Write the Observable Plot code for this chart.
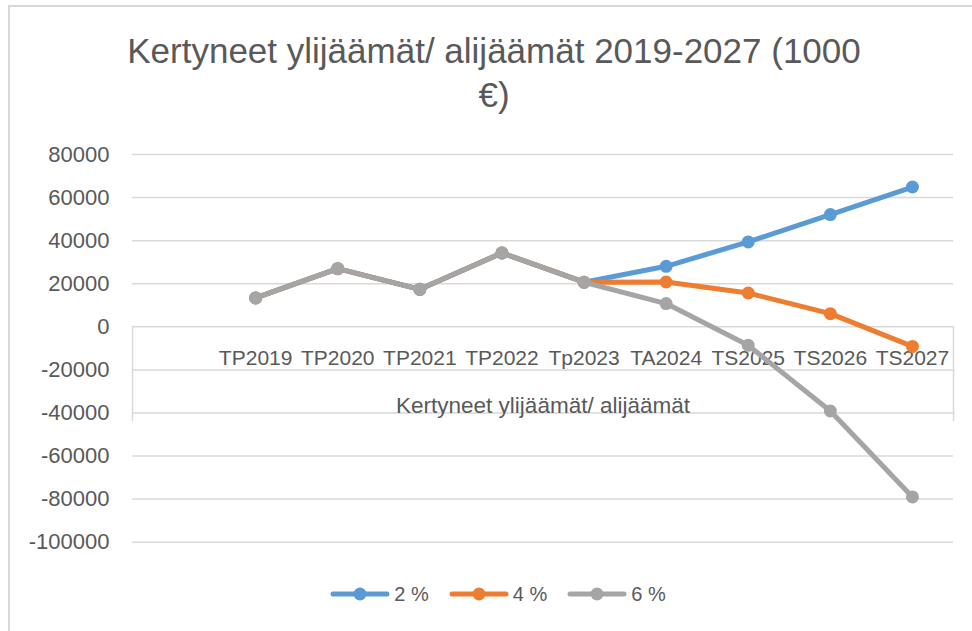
<!DOCTYPE html>
<html>
<head>
<meta charset="utf-8">
<script src="https://cdn.jsdelivr.net/npm/d3@7"></script>
<script src="https://cdn.jsdelivr.net/npm/@observablehq/plot@0.6"></script>
<style>
  html, body { margin: 0; padding: 0; background: #fff; }
  body { width: 972px; height: 631px; position: relative; overflow: hidden; font-family: "Liberation Sans", Arial, sans-serif; color: #595959; }
  #frame { position: absolute; left: 8px; top: 5px; right: -10px; bottom: -10px; border-left: 2px solid #d9d9d9; border-top: 2px solid #d9d9d9; }
  #title { position: absolute; left: 0; top: 29px; width: 988px; text-align: center; font-size: 35px; line-height: 44px; color: #595959; }
  #chart { position: absolute; left: 0; top: 130px; }
  #legend { position: absolute; left: 0; top: 582px; width: 996px; height: 24px; display: flex; justify-content: center; align-items: center; font-size: 20px; color: #595959; }
  .item { display: flex; align-items: center; margin: 0 10px; }
  .item svg { margin-right: 4px; }
</style>
</head>
<body>
<div id="frame"></div>
<div id="title">Kertyneet ylijäämät/ alijäämät 2019-2027 (1000<br>€)</div>
<div id="chart"></div>
<div id="legend"></div>
<script>
const categories = ["TP2019", "TP2020", "TP2021", "TP2022", "Tp2023", "TA2024", "TS2025", "TS2026", "TS2027"];
const s2 = [13400, 27000, 17400, 34300, 20700, 28100, 39400, 52100, 64900];
const s4 = [13400, 27000, 17400, 34300, 20700, 20800, 15700, 6100, -9100];
const s6 = [13400, 27000, 17400, 34300, 20700, 10800, -8600, -39100, -79000];
const seriesNames = ["2 %", "4 %", "6 %"];
const seriesColors = ["#5B9BD5", "#ED7D31", "#A5A5A5"];
const yTicks = [80000, 60000, 40000, 20000, 0, -20000, -40000, -60000, -80000, -100000];
const axisTitle = "Kertyneet ylijäämät/ alijäämät";

const seriesValues = [s2, s4, s6];
const rows = seriesValues.map((vals, k) => vals.map((v, i) => ({i, v, s: seriesNames[k]})));
// x domain: one empty leading category, then the nine categories
const xDomain = [-1.5, categories.length - 0.5];

const marks = [
  Plot.ruleY(yTicks, {stroke: "#d9d9d9", strokeWidth: 1.5}),
  Plot.ruleX(xDomain, {y1: 0, y2: -44000, stroke: "#d9d9d9", strokeWidth: 1.5}),
  Plot.axisY({ticks: yTicks, tickSize: 0, tickPadding: 23, fontSize: 22, tickFormat: d => String(d), fill: "#595959", label: null}),
  Plot.text(categories, {x: (d, i) => i, y: 0, dy: 31, text: d => d, fontSize: 21, fill: "#595959"}),
  Plot.text([axisTitle], {y: 0, dy: 79, text: d => d, fontSize: 22.5, fill: "#595959"})
];
rows.forEach((r, k) => {
  marks.push(Plot.line(r, {x: "i", y: "v", stroke: seriesColors[k], strokeWidth: 5, strokeLinejoin: "round", strokeLinecap: "round"}));
  marks.push(Plot.dot(r, {x: "i", y: "v", r: 6.5, fill: seriesColors[k], stroke: "none"}));
});

const chart = Plot.plot({
  width: 972,
  height: 440,
  marginLeft: 132,
  marginRight: 19,
  marginTop: 24,
  marginBottom: 28.3,
  style: {fontFamily: "'Liberation Sans', Arial, sans-serif", color: "#595959", background: "transparent", overflow: "visible"},
  x: {type: "linear", domain: xDomain, axis: null},
  y: {type: "linear", domain: [-100000, 80000], axis: null},
  marks
});
document.getElementById("chart").appendChild(chart);

const legend = document.getElementById("legend");
seriesNames.forEach((name, k) => {
  const item = document.createElement("div");
  item.className = "item";
  const c = seriesColors[k];
  item.innerHTML = `<svg width="60" height="16"><line x1="3" y1="8" x2="57" y2="8" stroke="${c}" stroke-width="5" stroke-linecap="round"/><circle cx="30" cy="8" r="6.5" fill="${c}"/></svg><span>${name}</span>`;
  legend.appendChild(item);
});
</script>
</body>
</html>
